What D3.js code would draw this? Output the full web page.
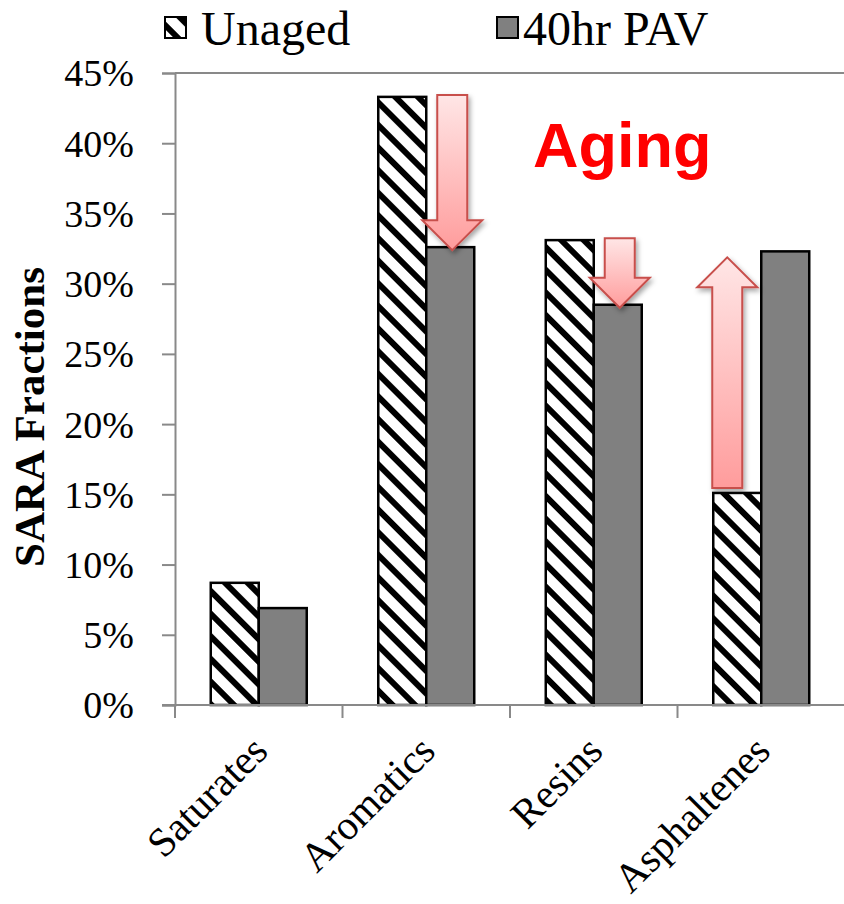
<!DOCTYPE html>
<html>
<head>
<meta charset="utf-8">
<script src="https://cdn.jsdelivr.net/npm/d3@7/dist/d3.min.js"></script>
<style>
  html, body { margin: 0; padding: 0; background: #fff; }
  svg { display: block; }
</style>
</head>
<body>
<svg id="chart" width="844" height="904"></svg>
<script>
// ---- data ----
const categories = ["Saturates", "Aromatics", "Resins", "Asphaltenes"];
const seriesNames = ["Unaged", "40hr PAV"];
const unaged = [8.7, 43.3, 33.1, 15.1];
const pav40 = [6.9, 32.6, 28.5, 32.3];
const yTicks = [0, 5, 10, 15, 20, 25, 30, 35, 40, 45];
const arrowCats = ["Aromatics", "Resins", "Asphaltenes"];
const annotation = "Aging";

// ---- layout ----
const W = 844, H = 904;
const plotLeft = 175, plotTop = 73, plotBottom = 705;
const bandStep = 167.5;
const svg = d3.select("#chart");
const axisColor = "#898989";
const serif = "'Liberation Serif','Times New Roman',serif";

const x0 = d3.scaleBand().domain(categories)
  .range([plotLeft, plotLeft + bandStep * categories.length]).paddingInner(0).paddingOuter(0);
const x1 = d3.scaleBand().domain(seriesNames)
  .range([0, x0.bandwidth()]).paddingInner(0).paddingOuter(0.745);
const y = d3.scaleLinear().domain([0, 45]).range([plotBottom, plotTop]);

// ---- defs ----
const defs = svg.append("defs");
const pat = defs.append("pattern").attr("id", "hatch")
  .attr("patternUnits", "userSpaceOnUse").attr("width", 16).attr("height", 16)
  .attr("patternTransform", "rotate(-45)");
pat.append("rect").attr("width", 16).attr("height", 16).attr("fill", "#fff");
pat.append("rect").attr("x", 0).attr("width", 6).attr("height", 16).attr("fill", "#000");

const grad = defs.append("linearGradient").attr("id", "arrowGrad")
  .attr("x1", 0).attr("y1", 0).attr("x2", 0).attr("y2", 1);
grad.append("stop").attr("offset", "0%").attr("stop-color", "#ffe6e6");
grad.append("stop").attr("offset", "100%").attr("stop-color", "#ff9c9c");

const shadow = defs.append("filter").attr("id", "shadow")
  .attr("x", "-30%").attr("y", "-30%").attr("width", "160%").attr("height", "160%");
shadow.append("feDropShadow").attr("dx", 2).attr("dy", 3).attr("stdDeviation", 2.5)
  .attr("flood-color", "#000").attr("flood-opacity", 0.35);

// ---- top border ----
svg.append("line").attr("x1", plotLeft).attr("x2", W).attr("y1", y(45)).attr("y2", y(45))
  .attr("stroke", axisColor).attr("stroke-width", 2);

// ---- bars ----
const rows = categories.map((c, i) => ({ cat: c, vals: [unaged[i], pav40[i]] }));
const g = svg.append("g");
rows.forEach(r => {
  r.vals.forEach((v, j) => {
    g.append("rect")
      .attr("x", x0(r.cat) + x1(seriesNames[j]))
      .attr("y", y(v))
      .attr("width", x1.bandwidth())
      .attr("height", y(0) - y(v))
      .attr("fill", j === 0 ? "url(#hatch)" : "#808080")
      .attr("stroke", "#000").attr("stroke-width", 2.5);
  });
});

// ---- axes ----
const yAxis = d3.axisLeft(y).tickValues(yTicks).tickFormat(d => d + "%")
  .tickSize(13).tickPadding(28);
const ya = svg.append("g").attr("transform", `translate(${plotLeft},0)`).call(yAxis);
ya.select(".domain").attr("stroke", axisColor).attr("stroke-width", 2);
ya.selectAll(".tick line").attr("stroke", axisColor).attr("stroke-width", 2);
ya.selectAll(".tick text").attr("font-family", serif).attr("font-size", 38)
  .attr("fill", "#000").attr("dy", "0.34em");

// x axis line + boundary ticks
svg.append("line").attr("x1", plotLeft - 13).attr("x2", W).attr("y1", plotBottom).attr("y2", plotBottom)
  .attr("stroke", axisColor).attr("stroke-width", 2);
const bounds = categories.map(c => x0(c));
svg.selectAll(".xtick").data(bounds).enter().append("line")
  .attr("x1", d => d).attr("x2", d => d).attr("y1", plotBottom).attr("y2", plotBottom + 13)
  .attr("stroke", axisColor).attr("stroke-width", 2);

// category labels
svg.selectAll(".xlab").data(categories).enter().append("text")
  .attr("transform", d => `translate(${x0(d) + x0.bandwidth() / 2 + 1},${plotBottom + 38}) rotate(-45)`)
  .attr("text-anchor", "end").attr("dy", "0.35em")
  .attr("font-family", serif).attr("font-size", 41).attr("fill", "#000")
  .text(d => d);

// y axis title
svg.append("text")
  .attr("transform", `translate(44,${(plotTop + plotBottom) / 2 + 28}) rotate(-90)`)
  .attr("text-anchor", "middle")
  .attr("font-family", serif).attr("font-weight", "bold").attr("font-size", 43)
  .attr("fill", "#000").text("SARA Fractions");

// ---- arrows ----
function arrowPath(cx, yStart, yEnd) {
  const sw = 15, hw = 30, hl = 30;
  const dir = yEnd > yStart ? 1 : -1;
  const hb = yEnd - dir * hl;
  return `M${cx - sw},${yStart} L${cx + sw},${yStart} L${cx + sw},${hb} L${cx + hw},${hb} ` +
    `L${cx},${yEnd} L${cx - hw},${hb} L${cx - sw},${hb} Z`;
}
arrowCats.forEach(c => {
  const i = categories.indexOf(c);
  const from = unaged[i], to = pav40[i];
  let cx, y1, y2;
  if (to < from) {
    cx = x0(c) + x1(seriesNames[1]) + x1.bandwidth() / 2 + 2;
    y1 = y(from) - 2; y2 = y(to) + 3;
  } else {
    cx = x0(c) + x1(seriesNames[0]) + x1.bandwidth() / 2 - 10;
    y1 = y(from) - 5; y2 = y(to) + 6;
  }
  svg.append("path").attr("d", arrowPath(cx, y1, y2))
    .attr("fill", "url(#arrowGrad)")
    .attr("stroke", "#c84f4c").attr("stroke-width", 2)
    .attr("filter", "url(#shadow)");
});

// Aging label
svg.append("text").attr("x", 533).attr("y", 167)
  .attr("font-family", "'Liberation Sans',Arial,sans-serif").attr("font-weight", "bold")
  .attr("font-size", 63).attr("fill", "#ff0000").text(annotation);

// ---- legend ----
const legend = [
  { name: seriesNames[0], fill: "url(#hatch)", sx: 165, tx: 201 },
  { name: seriesNames[1], fill: "#808080", sx: 497, tx: 523 }
];
legend.forEach(l => {
  svg.append("rect").attr("x", l.sx).attr("y", 17).attr("width", 21).attr("height", 21)
    .attr("fill", l.fill).attr("stroke", "#000").attr("stroke-width", 2);
  svg.append("text").attr("x", l.tx).attr("y", 45)
    .attr("font-family", serif).attr("font-size", 48).attr("fill", "#000").text(l.name);
});
</script>
</body>
</html>
